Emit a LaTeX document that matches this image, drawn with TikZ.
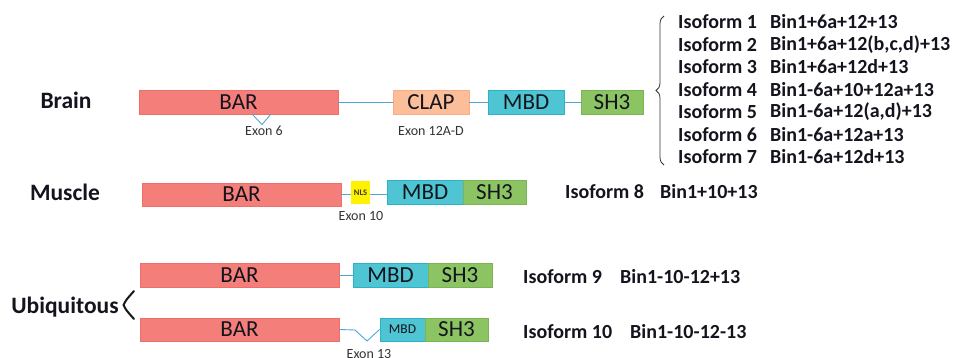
\documentclass[tikz,border=0pt]{standalone}
\usepackage{fontspec}
\setmainfont{Carlito}
\usetikzlibrary{decorations.pathreplacing,calc}
\definecolor{barf}{HTML}{F47F7A}
\definecolor{bard}{HTML}{EE6E69}
\definecolor{clapf}{HTML}{FBBE98}
\definecolor{clapd}{HTML}{F7AE86}
\definecolor{mbdf}{HTML}{4FC4D2}
\definecolor{mbdd}{HTML}{2BB2C9}
\definecolor{shf}{HTML}{8CC464}
\definecolor{shd}{HTML}{79B553}
\definecolor{nlsf}{HTML}{FFF200}
\definecolor{linkc}{HTML}{4FA7D8}
\definecolor{txt}{HTML}{14141E}
\begin{document}
\begin{tikzpicture}[x=1pt,y=-1pt,
  dom/.style={inner sep=0pt,minimum height=24pt,line width=0.8pt,text=txt,font=\fontsize{23}{24}\selectfont},
  barbox/.style={dom,fill=barf,draw=bard,minimum width=199pt},
  clapbox/.style={dom,fill=clapf,draw=clapd,minimum width=76pt},
  mbdbox/.style={dom,fill=mbdf,draw=mbdd,minimum width=76pt},
  shbox/.style={dom,fill=shf,draw=shd,minimum width=63pt},
  nlsbox/.style={inner sep=0pt,fill=nlsf,minimum width=19pt,minimum height=23pt,font=\bfseries\fontsize{8.5}{9}\selectfont,text=black!75!olive},
  link/.style={draw=linkc,line width=0.9pt},
  exon/.style={font=\fontsize{14}{15}\selectfont,text=black!80},
  tissue/.style={font=\bfseries\fontsize{23.5}{25}\selectfont,text=txt},
  iso/.style={anchor=west,inner sep=0pt,font=\bfseries\fontsize{20}{22}\selectfont,text=txt}
]
\useasboundingbox (0,0) rectangle (957,358);
% Brain
\node[tissue] (brain) at (66,100) {Brain};
\node[barbox] (bar1) at (238.5,102) {BAR};
\node[clapbox] (clap1) at (431,102) {CLAP};
\node[mbdbox] (mbd1) at (526,102) {MBD};
\node[shbox, minimum width=62pt] (sh1) at (612,102) {SH3};
\draw[link] (bar1.east) -- (clap1.west);
\draw[link] (clap1.east) -- (mbd1.west);
\draw[link] (mbd1.east) -- (sh1.west);
\coordinate (e6a) at (252,114);
\coordinate (e6b) at (262,124.5);
\coordinate (e6c) at (271,114);
\draw[link] (e6a) -- (e6b) -- (e6c);
\node[exon] (ex6) at (264,131) {Exon 6};
\node[exon] (ex12) at (431,131) {Exon 12A-D};
% brace
\coordinate (brt) at (664,16);
\coordinate (brb) at (664,165);
\draw[draw=black!80,line width=0.8pt,decorate,decoration={brace,amplitude=8pt}] (brb) -- (brt);
\node[iso] (i1) at (678,22) {Isoform 1};
\node[iso] (b1) at (770,22) {Bin1+6a+12+13};
\node[iso] (i2) at (678,44.5) {Isoform 2};
\node[iso] (b2) at (770,44.5) {Bin1+6a+12(b,c,d)+13};
\node[iso] (i3) at (678,67) {Isoform 3};
\node[iso] (b3) at (770,67) {Bin1+6a+12d+13};
\node[iso] (i4) at (678,89.5) {Isoform 4};
\node[iso] (b4) at (770,89.5) {Bin1-6a+10+12a+13};
\node[iso] (i5) at (678,112) {Isoform 5};
\node[iso] (b5) at (770,112) {Bin1-6a+12(a,d)+13};
\node[iso] (i6) at (678,134.5) {Isoform 6};
\node[iso] (b6) at (770,134.5) {Bin1-6a+12a+13};
\node[iso] (i7) at (678,157) {Isoform 7};
\node[iso] (b7) at (770,157) {Bin1-6a+12d+13};
% Muscle
\node[tissue] (muscle) at (65,192) {Muscle};
\node[barbox, minimum height=23pt] (bar2) at (241.5,194.5) {BAR};
\node[nlsbox] (nls) at (360.5,192.5) {NLS};
\node[mbdbox] (mbd2) at (425,192) {MBD};
\node[shbox] (sh2) at (494.5,192) {SH3};
\draw[link] (bar2.east |- 0,194) -- (nls.west |- 0,194);
\draw[link] (nls.east |- 0,194) -- (mbd2.west |- 0,194);
\node[exon] (ex10) at (361,216) {Exon 10};
\node[iso] (i8) at (565,192) {Isoform 8};
\node[iso] (b8) at (660,192) {Bin1+10+13};
% Ubiquitous
\node[tissue] (ubi) at (65,307) {Ubiquitous};
\draw[line width=2pt,black!90,line cap=round] (134,291) .. controls (126,300) .. (123.5,305) .. controls (126,310) .. (134,319);
\node[barbox] (bar3) at (239.5,275) {BAR};
\node[mbdbox, minimum width=75pt] (mbd3) at (390.5,275.5) {MBD};
\node[shbox, minimum width=64pt] (sh3) at (460,275.5) {SH3};
\draw[link] (bar3.east) -- (mbd3.west |- bar3.east);
\node[iso] (i9) at (523,277) {Isoform 9};
\node[iso] (b9) at (620,277) {Bin1-10-12+13};
\node[barbox, minimum height=23pt] (bar4) at (239.5,329.5) {BAR};
\node[mbdbox, minimum width=45pt, minimum height=23pt, font=\fontsize{13.5}{14}\selectfont] (mbd4) at (402.5,329.5) {MBD};
\node[shbox, minimum height=23pt] (sh4) at (456.5,329.5) {SH3};
\coordinate (e13a) at (355,330);
\coordinate (e13b) at (367,341);
\draw[link] (bar4.east) -- (e13a) -- (e13b) -- (mbd4.west);
\node[exon] (ex13) at (369,354) {Exon 13};
\node[iso] (i10) at (523,332) {Isoform 10};
\node[iso] (b10) at (630,332) {Bin1-10-12-13};
\end{tikzpicture}
\end{document}
